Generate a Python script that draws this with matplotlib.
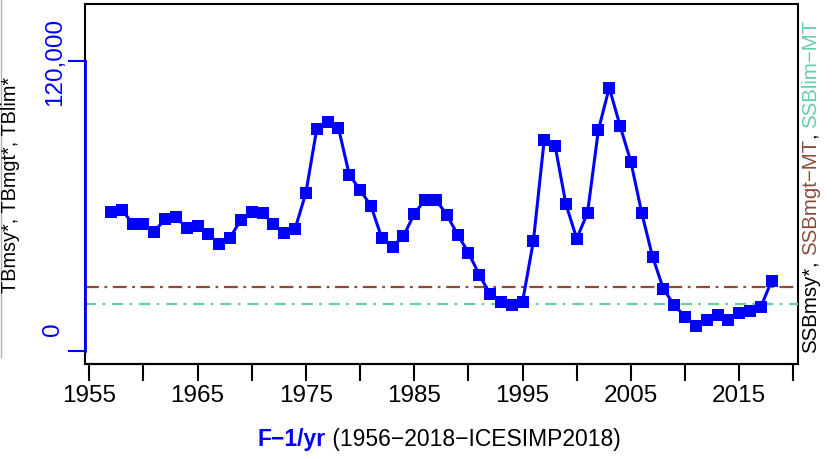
import matplotlib
matplotlib.use('Agg')
import matplotlib.pyplot as plt
from matplotlib.lines import Line2D

plt.rcParams['font.family'] = ['Liberation Sans', 'DejaVu Sans']
plt.rcParams['lines.scale_dashes'] = False

# total biomass by year
years = list(range(1957, 2019))
tb = [57600, 58500, 52700, 52400, 49400, 54600, 55300, 51000, 51800, 48300,
      44200, 46900, 54300, 57600, 57100, 52400, 49000, 50500, 65500, 91900,
      94600, 92400, 73000, 66600, 60100, 46800, 43200, 47500, 56700, 62600,
      62600, 56400, 48200, 40700, 31600, 23500, 20200, 19000, 20400, 45500,
      87400, 85000, 60800, 46500, 57200, 91400, 109000, 93200, 78300, 57200,
      39000, 25700, 19000, 14200, 10500, 13000, 14900, 13000, 15700, 16400,
      18300, 29100]

ssb_mgt = 26500
ssb_lim = 19300

xtick_years = list(range(1955, 2021, 5))
xtick_labels = [str(y) if (y - 1955) % 10 == 0 else '' for y in xtick_years]
ytick_vals = [0, 120000]
ytick_labels = ['0', '120,000']

col_mgt = '#8B4C39'
col_lim = '#66CDAA'

fig = plt.figure(figsize=(8.33, 4.6), dpi=100)
ax = fig.add_axes([0.1017, 0.2065, 0.8567, 0.7826])
ax.set_xlim(1954.58, 2020.46)
ax.set_ylim(-5400, 143600)

# box
ax.patch.set_edgecolor('black')
ax.patch.set_linewidth(1.5)
ax.spines['top'].set_visible(False)
ax.spines['right'].set_visible(False)
ax.spines['bottom'].set_linewidth(1.5)
ax.spines['left'].set_color('blue')
ax.spines['left'].set_linewidth(2)
ax.spines['left'].set_bounds(ytick_vals[0], ytick_vals[-1])

ax.axhline(ssb_mgt, color=col_mgt, lw=1.6, dashes=(10, 4, 2, 4))
ax.axhline(ssb_lim, color=col_lim, lw=1.6, dashes=(8, 4.5, 2, 5))
ax.plot(years, tb, color='blue', lw=2.2, marker='s', ms=8.7, mew=0, zorder=3)

ax.set_xticks(xtick_years, xtick_labels)
ax.tick_params(axis='x', length=12.2, width=1.5, pad=2.2, labelsize=17.5)
ax.set_yticks(ytick_vals, [''] + ytick_labels[1:], rotation=90, va='center')
ax.tick_params(axis='y', colors='blue', length=12.2, width=1.5, pad=1,
               labelsize=17.5)
ax.annotate(ytick_labels[0], xy=(0, ytick_vals[0]),
            xycoords=('axes fraction', 'data'), xytext=(-22.8, 16.6),
            textcoords='offset points', rotation=90, ha='center',
            va='center', color='blue', fontsize=17.5)

# x label, two colours
t1 = fig.text(0.3097, 0.0311, 'F\u22121/yr', color='blue', fontsize=16.5,
              fontweight='bold', ha='left', va='baseline')
ax.annotate(' (1956\u22122018\u2212ICESIMP2018)', xy=(1, 0), xycoords=t1,
            ha='left', va='bottom', fontsize=16.5, color='black')

# left label
fig.text(0.0132, 0.598, 'TBmsy*, TBmgt*, TBlim*', rotation=90,
         ha='center', va='center', fontsize=14.3)

# right label, three colours
parts = [('SSBmsy*', 'black'), (', ', 'black'), ('SSBmgt\u2212MT', col_mgt),
         (', ', 'black'), ('SSBlim\u2212MT', col_lim)]
prev = fig.text(0.9618, 0.2326, parts[0][0], color=parts[0][1], rotation=90,
                ha='left', va='bottom', fontsize=14.7)
for s, c in parts[1:]:
    prev = ax.annotate(s, xy=(0, 1), xycoords=prev, rotation=90,
                       ha='left', va='bottom', fontsize=14.7, color=c)

fig.add_artist(Line2D([0.001, 0.001], [1 - 358 / 460, 1],
                      transform=fig.transFigure, color='0.7', lw=1))

fig.savefig('out.png', dpi=100)
